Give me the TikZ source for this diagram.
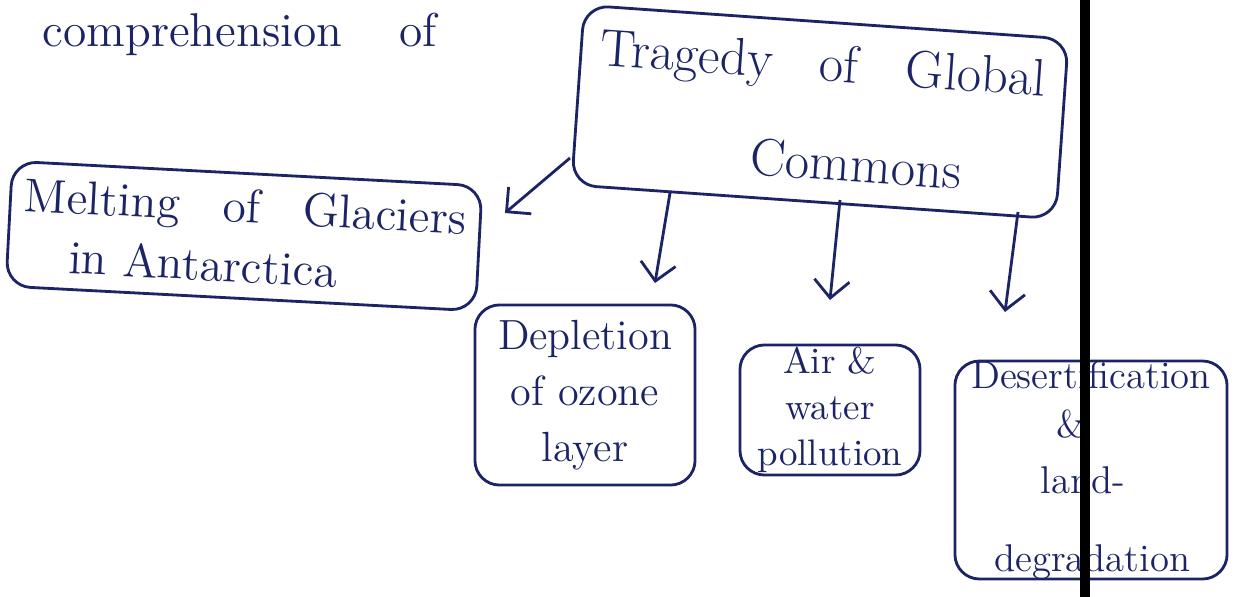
\documentclass[tikz,border=0pt]{standalone}
\usetikzlibrary{arrows.meta,calc}
\definecolor{ink}{HTML}{1C2466}
\begin{document}
\begin{tikzpicture}[x=0.01cm,y=-0.01cm,
  box/.style={draw=ink, line width=0.8pt, rounded corners=7pt, text=ink, inner sep=0pt},
  arr/.style={draw=ink, line width=0.8pt, -{Straight Barb[length=5pt,width=10pt]}},
  lbl/.style={text=ink, inner sep=0pt}]
\useasboundingbox (0,0) rectangle (1236,597);
\fill[white] (0,0) rectangle (1236,597);

\node[lbl, anchor=base west, font=\fontsize{13.5}{16}\selectfont] (comp) at (42,46) {comprehension\hspace{1.2em}of};

\node[box, minimum width=4.85cm, minimum height=1.8cm, rotate=-4, align=center,
      font=\fontsize{15}{28}\selectfont] (trag) at (820,112)
  {Tragedy\hspace{0.9em}of\hspace{0.9em}Global\\\hspace*{1.5em}Commons};

\node[box, minimum width=4.7cm, minimum height=1.25cm, rotate=-3, align=left,
      font=\fontsize{13.5}{17}\selectfont] (melt) at (244,236)
  {Melting\hspace{0.9em}of\hspace{0.9em}Glaciers\\\hspace*{1em}in Antarctica};

\node[box, minimum width=2.2cm, minimum height=1.8cm, align=center,
      font=\fontsize{12}{16}\selectfont] (dep) at (585,395)
  {Depletion\\of ozone\\layer};

\node[box, minimum width=1.8cm, minimum height=1.3cm, align=center,
      font=\fontsize{10.5}{13}\selectfont] (air) at (830,410)
  {Air \&\\water\\pollution};

\node[box, minimum width=2.72cm, minimum height=2.12cm, align=left,
      font=\fontsize{11}{14}\selectfont] (des) at (1091,470)
  {Desertification\\\hspace*{2.2em}\&\\[2pt]\hspace*{1.8em}land-\\[8pt]\hspace*{0.6em}degradation};

\coordinate (s1) at (570,158); \coordinate (e1) at (505,213);
\coordinate (s2) at (670,193); \coordinate (e2) at (655,283);
\coordinate (s3) at (840,200); \coordinate (e3) at (830,300);
\coordinate (s4) at (1018,212); \coordinate (e4) at (1005,312);
\draw[arr] (s1) -- (e1);
\draw[arr] (s2) -- (e2);
\draw[arr] (s3) -- (e3);
\draw[arr] (s4) -- (e4);

\coordinate (vt) at (1085,0); \coordinate (vb) at (1085,597);
\draw[line width=2.6pt, black] (vt) -- (vb);
\end{tikzpicture}
\end{document}
